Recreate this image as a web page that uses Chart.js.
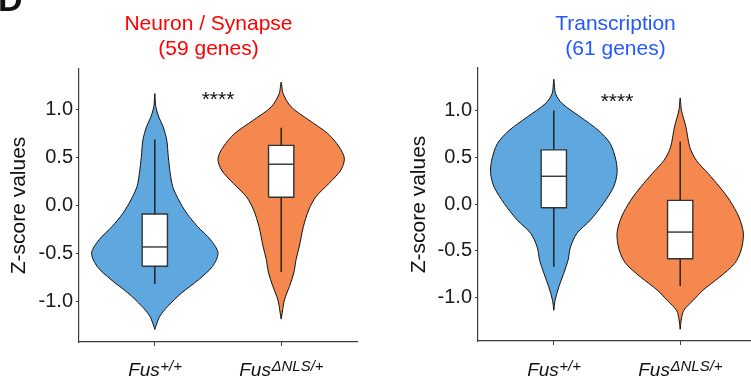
<!DOCTYPE html>
<html>
<head>
<meta charset="utf-8">
<script src="https://cdn.jsdelivr.net/npm/chart.js@4/dist/chart.umd.min.js"></script>
<style>
  html, body { margin: 0; padding: 0; background: #fff; overflow: hidden; width: 751px; height: 378px; }
  #left  { position: absolute; left: 0;     top: 0; width: 375px; height: 378px; }
  #right { position: absolute; left: 375px; top: 0; width: 384px; height: 378px; }
</style>
</head>
<body>
<div id="left"><canvas id="neuronChart" width="375" height="378"></canvas></div>
<div id="right"><canvas id="transcriptionChart" width="384" height="378"></canvas></div>
<script>
// ---- data -------------------------------------------------------------
const genotypeBase = ['Fus', 'Fus'];
const genotypeSup = ['+/+', '\u0394NLS/+'];
const yTickValues = [-1.0, -0.5, 0.0, 0.5, 1.0];
const significance = '****';

// Neuron / Synapse gene set (59 genes): kernel density profiles (relative)
const neuronWtZ       = [-1.288, -1.254, -1.15, -1.047, -0.908, -0.77, -0.632, -0.493, -0.355, -0.218, -0.079, 0.059, 0.197, 0.336, 0.51, 0.68, 0.82, 0.92, 1.026, 1.165];
const neuronWtDensity = [0, 0.016, 0.079, 0.205, 0.425, 0.693, 0.913, 1.0, 0.882, 0.677, 0.504, 0.378, 0.283, 0.244, 0.213, 0.189, 0.131, 0.063, 0.016, 0];
const neuronMutZ       = [-1.18, -1.115, -0.98, -0.84, -0.70, -0.56, -0.42, -0.22, -0.045, 0.093, 0.23, 0.37, 0.49, 0.61, 0.75, 0.888, 1.026, 1.165, 1.285];
const neuronMutDensity = [0, 0.016, 0.052, 0.131, 0.2, 0.236, 0.288, 0.351, 0.436, 0.551, 0.756, 0.945, 1.0, 0.918, 0.735, 0.441, 0.157, 0.031, 0];
// box statistics: [lower whisker, Q1, median, Q3, upper whisker]
const neuronWtBox  = [-0.815, -0.63, -0.43, -0.088, 0.69];
const neuronMutBox = [-0.69, 0.087, 0.43, 0.626, 0.81];

// Transcription gene set (61 genes)
const transWtZ       = [-1.136, -1.03, -0.886, -0.74, -0.60, -0.46, -0.31, -0.17, 0.01, 0.185, 0.33, 0.47, 0.65, 0.79, 0.936, 1.08, 1.186, 1.34];
const transWtDensity = [0, 0.02, 0.079, 0.157, 0.225, 0.263, 0.367, 0.578, 0.787, 0.945, 1.0, 0.984, 0.893, 0.709, 0.42, 0.131, 0.027, 0];
const transMutZ       = [-1.34, -1.24, -1.136, -1.03, -0.92, -0.78, -0.635, -0.49, -0.31, -0.136, 0.043, 0.185, 0.33, 0.47, 0.61, 0.83, 1.007, 1.14];
const transMutDensity = [0, 0.016, 0.058, 0.205, 0.362, 0.625, 0.861, 0.965, 1.0, 0.929, 0.783, 0.625, 0.441, 0.257, 0.153, 0.09, 0.02, 0];
const transWtBox  = [-0.67, -0.038, 0.30, 0.583, 1.005];
const transMutBox = [-0.875, -0.583, -0.298, 0.042, 0.672];

// ---- styling ----------------------------------------------------------
const FONT = '"Liberation Sans", Arial, Helvetica, sans-serif';
const WT_COLOR = '#5fa8df';
const MUT_COLOR = '#f4884e';
const AXIS_COLOR = '#3c3c3c';
const VIOLIN_HALF = 0.5;   // half of the maximum violin width, in category units
const BOX_HALF = 0.1;      // half box width, in category units

function violinPath(center, zs, dens) {
  const pts = [];
  for (let i = 0; i < zs.length; i++) pts.push({ x: center + dens[i] * VIOLIN_HALF, y: zs[i] });
  for (let i = zs.length - 2; i >= 0; i--) pts.push({ x: center - dens[i] * VIOLIN_HALF, y: zs[i] });
  return pts;
}

function groupDatasets(center, zs, dens, box, color) {
  const [lo, q1, med, q3, hi] = box;
  return [
    { data: violinPath(center, zs, dens), showLine: true, fill: 'shape', tension: 0.3,
      backgroundColor: color, borderColor: '#111', borderWidth: 1, pointRadius: 0, order: 4 },
    { data: [{ x: center, y: lo }, { x: center, y: hi }], showLine: true, fill: false,
      borderColor: '#111', borderWidth: 1.3, pointRadius: 0, order: 3 },
    { data: [{ x: center - BOX_HALF, y: q1 }, { x: center + BOX_HALF, y: q1 }, { x: center + BOX_HALF, y: q3 },
             { x: center - BOX_HALF, y: q3 }, { x: center - BOX_HALF, y: q1 }],
      showLine: true, fill: 'shape', tension: 0, backgroundColor: '#ffffff', borderColor: '#333',
      borderWidth: 1.4, pointRadius: 0, order: 2 },
    { data: [{ x: center - BOX_HALF, y: med }, { x: center + BOX_HALF, y: med }], showLine: true, fill: false,
      borderColor: '#333', borderWidth: 1.4, pointRadius: 0, order: 1 }
  ];
}

// Panel annotations: titles, significance stars, genotype labels
const annotations = {
  id: 'annotations',
  afterDraw(chart, args, opts) {
    const ctx = chart.ctx;
    const xs = chart.scales.x, ys = chart.scales.y;
    ctx.save();
    // title
    ctx.fillStyle = opts.titleColor;
    ctx.font = '21px ' + FONT;
    ctx.textAlign = 'center';
    ctx.textBaseline = 'alphabetic';
    opts.title.forEach((line, i) => ctx.fillText(line, opts.titleX, 30 + i * 25));
    // significance
    ctx.fillStyle = '#111';
    ctx.font = '21px ' + FONT;
    ctx.fillText(significance, xs.getPixelForValue(1.5), ys.getPixelForValue(opts.starZ) + 12);
    // genotype labels with superscripts
    ctx.textAlign = 'left';
    genotypeBase.forEach((base, i) => {
      const px = xs.getPixelForValue(i + 1);
      ctx.font = 'italic 19px ' + FONT;
      const w1 = ctx.measureText(base).width;
      ctx.font = 'italic 15px ' + FONT;
      const w2 = ctx.measureText(genotypeSup[i]).width;
      const start = px - (w1 + w2) / 2;
      ctx.font = 'italic 19px ' + FONT;
      ctx.fillText(base, start, 376);
      ctx.font = 'italic 15px ' + FONT;
      ctx.fillText(genotypeSup[i], start + w1 + 0.5, 370.5);
    });
    // panel letter
    if (opts.panelLetter) {
      ctx.font = 'bold 34px ' + FONT;
      ctx.fillText(opts.panelLetter, -2, 11);
    }
    ctx.restore();
  }
};

function makePanel(canvasId, p) {
  const datasets = [
    ...groupDatasets(1, p.wtZ, p.wtDensity, p.wtBox, WT_COLOR),
    ...groupDatasets(2, p.mutZ, p.mutDensity, p.mutBox, MUT_COLOR)
  ];
  return new Chart(document.getElementById(canvasId), {
    type: 'scatter',
    data: { datasets },
    plugins: [annotations],
    options: {
      responsive: false,
      animation: false,
      events: [],
      layout: { padding: p.padding },
      plugins: {
        legend: { display: false },
        tooltip: { enabled: false },
        annotations: { title: p.title, titleColor: p.titleColor, titleX: p.titleX, starZ: 1.165, panelLetter: p.panelLetter }
      },
      scales: {
        x: {
          type: 'linear', min: 0.4, max: 2.6,
          afterBuildTicks: s => { s.ticks = [1, 2].map(v => ({ value: v })); },
          ticks: { display: false },
          grid: { drawOnChartArea: false, drawTicks: true, tickLength: 4, color: AXIS_COLOR, lineWidth: 1 },
          border: { display: true, color: AXIS_COLOR, width: 1.2 },
          afterFit: s => { s.height = p.xAxisHeight; }
        },
        y: {
          type: 'linear', min: p.yMin, max: p.yMax,
          afterBuildTicks: s => { s.ticks = yTickValues.map(v => ({ value: v })); },
          ticks: { callback: v => v.toFixed(1), color: '#1a1a1a', padding: 3, font: { family: FONT, size: 20 } },
          grid: { drawOnChartArea: false, drawTicks: true, tickLength: 3, color: AXIS_COLOR, lineWidth: 1 },
          border: { display: true, color: AXIS_COLOR, width: 1.2 },
          title: { display: true, text: 'Z-score values', color: '#111', font: { family: FONT, size: 21 },
                   padding: { top: 7, bottom: 0 } },
          afterFit: s => { s.width = p.yAxisWidth; }
        }
      }
    }
  });
}

makePanel('neuronChart', {
  title: ['Neuron / Synapse', '(59 genes)'], titleColor: '#ff0000', titleX: 208.5, panelLetter: 'D',
  wtZ: neuronWtZ, wtDensity: neuronWtDensity, wtBox: neuronWtBox,
  mutZ: neuronMutZ, mutDensity: neuronMutDensity, mutBox: neuronMutBox,
  yMin: -1.418, yMax: 1.42,
  padding: { left: 0, right: 18, top: 69, bottom: 0 }, yAxisWidth: 79, xAxisHeight: 36
});

makePanel('transcriptionChart', {
  title: ['Transcription', '(61 genes)'], titleColor: '#2457ff', titleX: 240.5, panelLetter: null,
  wtZ: transWtZ, wtDensity: transWtDensity, wtBox: transWtBox,
  mutZ: transMutZ, mutDensity: transMutDensity, mutBox: transMutBox,
  yMin: -1.465, yMax: 1.46,
  padding: { left: 25, right: 3, top: 68, bottom: 0 }, yAxisWidth: 78, xAxisHeight: 37
});
</script>
</body>
</html>
